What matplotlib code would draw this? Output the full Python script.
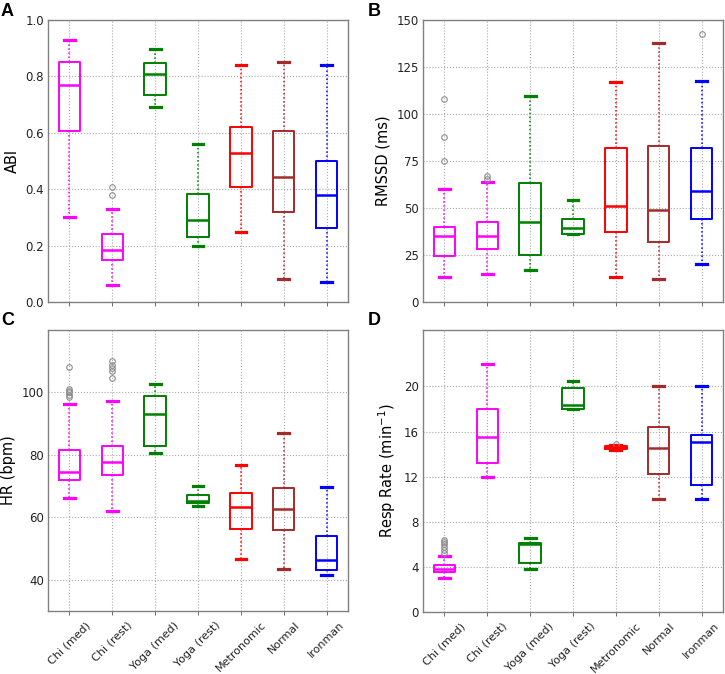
import matplotlib
matplotlib.use("Agg")
import matplotlib.pyplot as plt

groups = ["Chi (med)", "Chi (rest)", "Yoga (med)", "Yoga (rest)", "Metronomic", "Normal", "Ironman"]
colors = ["#ff00ff", "#ff00ff", "#008000", "#008000", "#ff0000", "#a52a2a", "#0000ff"]

# ABI
abi_whislo = [0.30, 0.06, 0.69, 0.20, 0.25, 0.08, 0.07]
abi_q1 = [0.607, 0.150, 0.735, 0.231, 0.409, 0.320, 0.264]
abi_med = [0.768, 0.186, 0.808, 0.290, 0.530, 0.444, 0.379]
abi_q3 = [0.851, 0.240, 0.849, 0.384, 0.619, 0.608, 0.499]
abi_whishi = [0.928, 0.329, 0.898, 0.559, 0.839, 0.850, 0.839]
abi_fliers = [[], [0.378, 0.409], [], [], [], [], []]

# RMSSD
rmssd_whislo = [13.1, 14.9, 17.0, 36.0, 13.1, 12.1, 20.0]
rmssd_q1 = [24.5, 28.2, 25.0, 36.0, 37.1, 31.9, 44.0]
rmssd_med = [35.1, 35.1, 42.6, 39.2, 50.9, 48.9, 58.9]
rmssd_q3 = [39.9, 42.7, 63.5, 44.1, 82.1, 83.2, 82.1]
rmssd_whishi = [59.9, 63.8, 109.8, 54.4, 116.8, 137.8, 117.6]
rmssd_fliers = [[74.8, 87.9, 107.8], [65.5, 67.2], [], [], [], [], [142.7]]

# HR
hr_whislo = [66.1, 61.9, 80.6, 63.6, 46.5, 43.6, 41.4]
hr_q1 = [71.8, 73.5, 82.9, 64.7, 56.2, 56.1, 43.0]
hr_med = [74.6, 77.8, 93.1, 65.1, 63.3, 62.6, 46.4]
hr_q3 = [81.7, 83.0, 98.8, 67.2, 67.7, 69.4, 54.0]
hr_whishi = [96.2, 97.2, 102.8, 69.9, 76.8, 87.1, 69.8]
hr_fliers = [[98.6, 99.3, 100.0, 100.6, 101.2, 108.0], [104.6, 106.9, 107.7, 108.9, 110.0], [], [], [], [], []]

# Respiration rate
rr_whislo = [3.01, 11.99, 3.78, 17.96, 14.38, 9.99, 9.99]
rr_q1 = [3.52, 13.23, 4.34, 17.96, 14.47, 12.26, 11.28]
rr_med = [3.81, 15.54, 6.06, 18.35, 14.60, 14.50, 15.10]
rr_q3 = [4.19, 17.99, 6.14, 19.82, 14.72, 16.37, 15.66]
rr_whishi = [4.99, 21.98, 6.56, 20.47, 14.80, 20.00, 20.00]
rr_fliers = [[5.2, 5.5, 5.8, 6.0, 6.2, 6.35], [], [], [], [14.92], [], []]

W, H = 725, 674
fig = plt.figure(figsize=(W / 100, H / 100), dpi=100)


def px_axes(left, top, right, bottom):
    return fig.add_axes([left / W, 1 - bottom / H, (right - left) / W, (bottom - top) / H])


def draw_panel(ax, whislo, q1, med, q3, whishi, fliers, ylim, yticks, ylabel, show_labels):
    stats = []
    for i in range(len(groups)):
        stats.append({"whislo": whislo[i], "q1": q1[i], "med": med[i], "q3": q3[i],
                      "whishi": whishi[i], "fliers": fliers[i]})
    art = ax.bxp(stats, positions=range(1, len(groups) + 1), widths=0.5, patch_artist=False,
                 flierprops=dict(marker="o", markerfacecolor="none", markeredgecolor="#8c8c8c",
                                 markersize=4, markeredgewidth=0.8))
    for i, c in enumerate(colors):
        art["boxes"][i].set(color=c, linewidth=1.4)
        art["medians"][i].set(color=c, linewidth=1.8)
        for w in art["whiskers"][2 * i:2 * i + 2]:
            w.set(color=c, linewidth=1.1, linestyle=":")
        for cp in art["caps"][2 * i:2 * i + 2]:
            cp.set(color=c, linewidth=2.3)
    ax.set_xlim(0.5, len(groups) + 0.5)
    ax.set_ylim(*ylim)
    ax.set_yticks(yticks)
    ax.set_xticks(range(1, len(groups) + 1))
    if show_labels:
        ax.set_xticklabels(groups, rotation=45, ha="center", fontsize=8)
    else:
        ax.set_xticklabels([])
    ax.tick_params(axis="y", labelsize=8.5, colors="#222222", length=0, pad=3)
    ax.tick_params(axis="x", colors="#555555", labelcolor="#222222", length=3, width=0.6)
    ax.set_ylabel(ylabel, fontsize=10.5, labelpad=4)
    ax.grid(True, linestyle=":", color="#aaaaaa", linewidth=0.8)
    ax.set_axisbelow(True)
    for s in ax.spines.values():
        s.set_color("#808080")
        s.set_linewidth(1.0)


axA = px_axes(48, 20, 348, 302)
axB = px_axes(423, 20, 723, 302)
axC = px_axes(48, 330, 348, 611)
axD = px_axes(423, 330, 723, 612)

draw_panel(axA, abi_whislo, abi_q1, abi_med, abi_q3, abi_whishi, abi_fliers,
           (0, 1.0), [0.0, 0.2, 0.4, 0.6, 0.8, 1.0], "ABI", False)
axA.set_yticklabels(["0.0", "0.2", "0.4", "0.6", "0.8", "1.0"])
draw_panel(axB, rmssd_whislo, rmssd_q1, rmssd_med, rmssd_q3, rmssd_whishi, rmssd_fliers,
           (0, 150), [0, 25, 50, 75, 100, 125, 150], "RMSSD (ms)", False)
draw_panel(axC, hr_whislo, hr_q1, hr_med, hr_q3, hr_whishi, hr_fliers,
           (30, 120), [40, 60, 80, 100], "HR (bpm)", True)
draw_panel(axD, rr_whislo, rr_q1, rr_med, rr_q3, rr_whishi, rr_fliers,
           (0, 25), [0, 4, 8, 12, 16, 20], r"Resp Rate (min$^{-1}$)", True)

for letter, x, y in [("A", 1, 3), ("B", 368, 3), ("C", 1, 312), ("D", 368, 312)]:
    fig.text(x / W, 1 - y / H, letter, fontsize=13, fontweight="bold",
             family="Liberation Sans", va="top", ha="left")

fig.savefig("out.png", dpi=100)
